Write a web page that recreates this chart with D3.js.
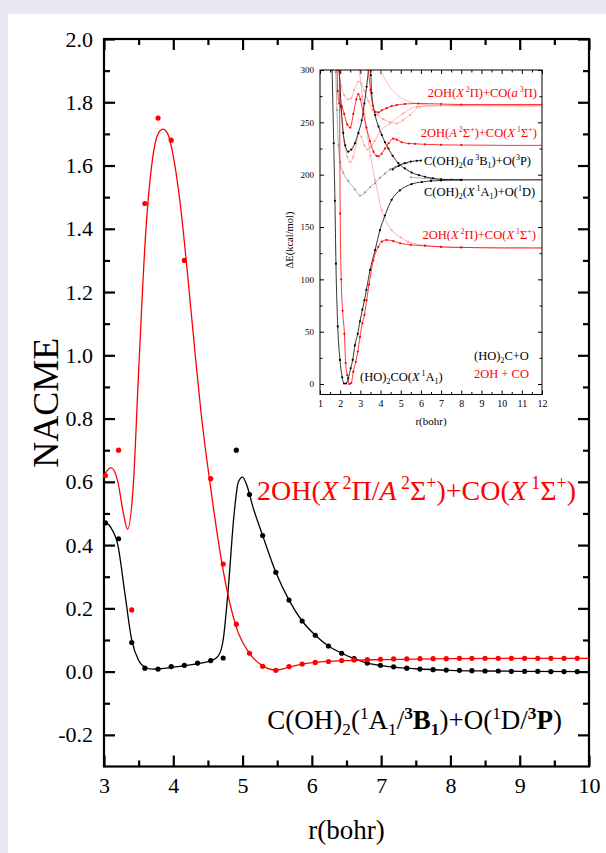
<!DOCTYPE html>
<html>
<head>
<meta charset="utf-8">
<script src="https://cdn.jsdelivr.net/npm/d3@7"></script>
<style>
  html, body { margin: 0; padding: 0; background: #e8e8f3; }
  svg { display: block; }
</style>
</head>
<body>
<div id="chart"></div>
<script>
// main panel: NACME vs r
const mainR = [3.02, 3.21, 3.40, 3.59, 3.78, 3.97, 4.16, 4.35, 4.54, 4.72, 4.91, 5.10, 5.29, 5.48, 5.67, 5.86, 6.05, 6.24, 6.43, 6.61, 6.80, 6.99, 7.18, 7.37, 7.56, 7.75, 7.94, 8.13, 8.31, 8.50, 8.69, 8.88, 9.07, 9.26, 9.45, 9.64, 9.83];
const blackNacme = [0.47, 0.42, 0.092, 0.011, 0.008, 0.016, 0.020, 0.027, 0.035, 0.043, 0.70, 0.56, 0.43, 0.314, 0.226, 0.16, 0.115, 0.081, 0.058, 0.041, 0.027, 0.020, 0.015, 0.011, 0.008, 0.006, 0.005, 0.004, 0.003, 0.002, 0.002, 0.001, 0.001, 0.001, 0.0, 0.0, 0.0];
const redNacme = [0.62, 0.70, 0.195, 1.48, 1.75, 1.68, 1.30, null, 0.61, 0.34, 0.15, 0.058, 0.017, 0.004, 0.016, 0.024, 0.029, 0.032, 0.035, 0.037, 0.038, 0.039, 0.040, 0.040, 0.041, 0.041, 0.041, 0.042, 0.042, 0.042, 0.042, 0.042, 0.042, 0.042, 0.042, 0.042, 0.042];

// fitted curves
const blackFitR = [3.0, 3.1, 3.2, 3.3, 3.4, 3.5, 3.6, 3.7, 3.8, 4.0, 4.2, 4.4, 4.55, 4.65, 4.72, 4.8, 4.87, 4.94, 5.0, 5.06, 5.15, 5.29, 5.48, 5.67, 5.86, 6.05, 6.24, 6.43, 6.61, 6.8, 7.0, 7.5, 8.0, 8.5, 9.0, 10.0];
const blackFit = [0.475, 0.455, 0.40, 0.25, 0.10, 0.035, 0.013, 0.008, 0.009, 0.014, 0.020, 0.027, 0.035, 0.05, 0.10, 0.28, 0.48, 0.60, 0.615, 0.59, 0.52, 0.43, 0.314, 0.226, 0.16, 0.115, 0.081, 0.058, 0.041, 0.027, 0.019, 0.009, 0.004, 0.002, 0.001, 0.0];
const redFitR = [3.0, 3.1, 3.2, 3.28, 3.34, 3.42, 3.5, 3.6, 3.7, 3.78, 3.85, 3.92, 4.0, 4.1, 4.2, 4.3, 4.4, 4.54, 4.72, 4.91, 5.1, 5.29, 5.48, 5.67, 5.86, 6.05, 6.5, 7.0, 8.0, 9.0, 10.0];
const redFit = [0.62, 0.645, 0.60, 0.50, 0.45, 0.58, 0.95, 1.38, 1.62, 1.70, 1.715, 1.70, 1.63, 1.48, 1.27, 1.04, 0.82, 0.58, 0.32, 0.14, 0.058, 0.018, 0.005, 0.014, 0.024, 0.029, 0.035, 0.038, 0.041, 0.042, 0.042];

const xMajor = [3, 4, 5, 6, 7, 8, 9, 10];
const xMinor = [3.5, 4.5, 5.5, 6.5, 7.5, 8.5, 9.5];
const yMajor = [-0.2, 0.0, 0.2, 0.4, 0.6, 0.8, 1.0, 1.2, 1.4, 1.6, 1.8, 2.0];
const yMinor = [-0.1, 0.1, 0.3, 0.5, 0.7, 0.9, 1.1, 1.3, 1.5, 1.7, 1.9];

// inset: potential energy curves, dE (kcal/mol) vs r (bohr)
const gsBlackR = [1.60, 1.68, 1.74, 1.79, 1.88, 1.99, 2.10, 2.19, 2.29, 2.40, 2.52, 2.62, 2.73, 2.87, 2.98, 3.10, 3.20, 3.30, 3.48, 3.73, 3.97, 4.22, 4.55, 4.96, 5.54, 6.04, 6.5, 7.0, 8.0, 9.0, 10.0, 11.0, 12.0];
const gsBlackE = [300, 230, 175, 115, 55, 23, 6.4, 0.5, 0.5, 5.4, 15, 23, 37, 48, 60, 71, 80, 90, 109, 128, 147, 161, 176, 185, 191, 193, 194, 194.5, 195, 195, 195, 195, 195];
const gsRedR = [1.97, 2.0, 2.05, 2.12, 2.21, 2.27, 2.35, 2.45, 2.55, 2.65, 2.77, 2.87, 2.98, 3.10, 3.20, 3.31, 3.43, 3.64, 3.89, 4.06, 4.30, 4.63, 4.97, 5.5, 6.2, 7, 8, 9, 10, 11, 12];
const gsRedE = [300, 163, 100, 70, 48, 20, 8.6, 0, 1, 11.8, 21, 31, 45, 58, 66, 80, 95, 118, 131, 136, 137.6, 136.6, 134.5, 133, 132, 131, 130.5, 130.2, 130, 130, 130];
const wellBlackR = [1.95, 2.05, 2.15, 2.25, 2.40, 2.55, 2.73, 2.90, 3.07, 3.20, 3.31, 3.40, 3.46, 3.52, 3.56, 3.73, 3.9, 4.06, 4.22, 4.39, 4.6, 4.88, 5.2, 5.54, 5.9, 6.2, 6.6, 7.0, 8.0];
const wellBlackE = [300, 265, 240, 228, 222, 224, 230, 240, 252, 268, 284, 300, 315, 295, 278, 257, 246, 238, 231, 225, 218, 211, 206, 202, 199.5, 198, 196.5, 195.5, 195];
const grayR = [1.72, 1.78, 1.84, 1.91, 2.0, 2.15, 2.4, 2.73, 2.98, 3.23, 3.48, 3.73, 3.97, 4.22, 4.47, 4.72, 4.96, 5.3];
const grayE = [320, 298, 262, 228, 212, 202, 194, 186, 180, 183, 188, 192, 197, 201, 205, 207.5, 209.5, 211];
const grayTailR = [5.5, 6.5, 7.5, 8.5, 10, 12];
const grayTailE = [197.5, 196, 195.5, 195.3, 195.2, 195.2];
const tripletR = [4.6, 4.9, 5.2, 5.5, 5.8, 6.0];
const tripletE = [205, 208.5, 211, 212.5, 213.3, 213.5];
const aSigmaR = [1.85, 1.88, 1.95, 2.07, 2.2, 2.35, 2.5, 2.65, 2.8, 2.9, 3.0, 3.15, 3.3, 3.48, 3.65, 3.8, 3.9, 4.05, 4.22, 4.4, 4.63, 4.8, 5.05, 5.4, 5.71, 6.2, 7, 8, 9, 10, 11, 12];
const aSigmaE = [300, 280, 268, 266, 258, 248, 245, 258, 272, 277, 272, 258, 245, 232, 222, 218, 217.5, 220, 225, 230, 234.5, 233.5, 231, 229.8, 229.5, 229, 228.5, 228.3, 228.2, 228, 228, 228];
const aPiR = [3.3, 3.4, 3.5, 3.62, 3.75, 3.9, 4.06, 4.3, 4.55, 4.8, 5.21, 5.87, 7, 8, 9, 10, 11, 12];
const aPiE = [320, 300, 281, 266, 260, 259.5, 261.5, 263.5, 265.5, 266.5, 267.5, 268, 267.5, 267, 267, 267, 267, 267];
const pinkAR = [4.0, 4.2, 4.5, 4.9, 5.4, 5.95, 7, 12];
const pinkAE = [300, 292, 283, 275, 270, 267.5, 266, 265.5];
const pinkBR = [1.92, 2.05, 2.2, 2.4, 2.55, 2.7, 2.9, 3.05, 3.2, 3.4, 3.6, 3.85, 4.14, 4.5, 4.8, 5.1, 5.46, 5.95, 7, 12];
const pinkBE = [300, 285, 276, 272, 273, 281, 289, 287, 280, 270, 262, 257, 253, 250, 249, 252, 257, 265, 266, 266];
const pinkCR = [1.95, 2.05, 2.2, 2.35, 2.5, 2.65, 2.8, 2.92, 3.05, 3.2, 3.35, 3.5, 3.7, 3.97, 4.47, 5.13, 5.79, 7, 12];
const pinkCE = [300, 262, 232, 217, 212, 217, 230, 239, 236, 228, 224, 226, 232, 241, 249, 258.6, 265, 266, 266];
const pinkDR = [2.95, 3.1, 3.3, 3.5, 3.73, 4.06, 4.55, 5.0, 5.36, 6.2, 7, 8, 12];
const pinkDE = [300, 275, 245, 218, 195, 166, 147, 140, 136, 132.5, 131, 130.5, 130];

const insetXMajor = [1, 2, 3, 4, 5, 6, 7, 8, 9, 10, 11, 12];
const insetXMinor = [1.5, 2.5, 3.5, 4.5, 5.5, 6.5, 7.5, 8.5, 9.5, 10.5, 11.5];
const insetYMajor = [0, 50, 100, 150, 200, 250, 300];
const insetYMinor = [25, 75, 125, 175, 225, 275];

const width = 606;
const height = 853;
const font = "'Liberation Serif', 'Times New Roman', serif";

const svg = d3.select("#chart")
  .append("svg")
  .attr("width", width)
  .attr("height", height)
  .style("font-family", font);

// white panel on the lavender page
svg.append("rect")
  .attr("x", 8).attr("y", 14)
  .attr("width", width - 8).attr("height", height - 14)
  .attr("fill", "#fff");

// rich text helper: parts are [text, kinds] with kinds like "i", "sup", "b sub"
function rich(sel, parts, size) {
  let shift = 0;
  parts.forEach(([t, k]) => {
    const kinds = k.split(" ");
    const ts = sel.append("tspan").text(t);
    let target = 0, fs = size;
    if (kinds.includes("sup")) { target = -0.38 * size; fs = 0.64 * size; }
    if (kinds.includes("sub")) { target = 0.22 * size; fs = 0.64 * size; }
    ts.attr("dy", target - shift).style("font-size", fs + "px");
    shift = target;
    if (kinds.includes("i")) ts.style("font-style", "italic");
    if (kinds.includes("b")) ts.style("font-weight", "bold");
  });
  if (shift !== 0) sel.append("tspan").attr("dy", -shift).text("\u200b");
  return sel;
}

// ----- main chart -----
const x = d3.scaleLinear().domain([3, 10]).range([104, 589]);
const y = d3.scaleLinear().domain([-0.3, 2.0]).range([766.5, 39]);
const major = 11, minor = 6;

function ticks(g) {
  g.select(".domain").remove();
  g.selectAll("line").attr("stroke", "#000").attr("stroke-width", 2.2);
}

svg.append("g")
  .attr("transform", `translate(0,${y.range()[0]})`)
  .call(d3.axisBottom(x).tickValues(xMajor).tickSizeInner(-major).tickSizeOuter(0).tickPadding(11).tickFormat(d3.format("d")))
  .call(ticks)
  .selectAll("text").style("font-size", "22px").style("font-family", font).attr("fill", "#000");
svg.append("g")
  .attr("transform", `translate(0,${y.range()[0]})`)
  .call(d3.axisBottom(x).tickValues(xMinor).tickSizeInner(-minor).tickSizeOuter(0).tickFormat(""))
  .call(ticks);
svg.append("g")
  .attr("transform", `translate(0,${y.range()[1]})`)
  .call(d3.axisTop(x).tickValues(xMajor).tickSizeInner(-major).tickSizeOuter(0).tickFormat(""))
  .call(ticks);
svg.append("g")
  .attr("transform", `translate(0,${y.range()[1]})`)
  .call(d3.axisTop(x).tickValues(xMinor).tickSizeInner(-minor).tickSizeOuter(0).tickFormat(""))
  .call(ticks);

svg.append("g")
  .attr("transform", `translate(${x.range()[0]},0)`)
  .call(d3.axisLeft(y).tickValues(yMajor).tickSizeInner(-major).tickSizeOuter(0).tickPadding(11).tickFormat(d => d.toFixed(1)))
  .call(ticks)
  .selectAll("text").style("font-size", "22px").style("font-family", font).attr("fill", "#000");
svg.append("g")
  .attr("transform", `translate(${x.range()[0]},0)`)
  .call(d3.axisLeft(y).tickValues(yMinor).tickSizeInner(-minor).tickSizeOuter(0).tickFormat(""))
  .call(ticks);
svg.append("g")
  .attr("transform", `translate(${x.range()[1]},0)`)
  .call(d3.axisRight(y).tickValues(yMajor).tickSizeInner(-major).tickSizeOuter(0).tickFormat(""))
  .call(ticks);
svg.append("g")
  .attr("transform", `translate(${x.range()[1]},0)`)
  .call(d3.axisRight(y).tickValues(yMinor).tickSizeInner(-minor).tickSizeOuter(0).tickFormat(""))
  .call(ticks);

svg.append("rect")
  .attr("x", x.range()[0]).attr("y", y.range()[1])
  .attr("width", x.range()[1] - x.range()[0])
  .attr("height", y.range()[0] - y.range()[1])
  .attr("fill", "none").attr("stroke", "#000").attr("stroke-width", 2.2);

const line = d3.line().x(d => x(d[0])).y(d => y(d[1])).curve(d3.curveMonotoneX);

svg.append("path")
  .datum(blackFitR.map((r, i) => [r, blackFit[i]]))
  .attr("d", line).attr("fill", "none").attr("stroke", "#000").attr("stroke-width", 1.3);
svg.append("path")
  .datum(redFitR.map((r, i) => [r, redFit[i]]))
  .attr("d", line).attr("fill", "none").attr("stroke", "#ff0000").attr("stroke-width", 1.3);

svg.append("g").selectAll("circle")
  .data(mainR.map((r, i) => [r, blackNacme[i]]))
  .join("circle")
  .attr("cx", d => x(d[0])).attr("cy", d => y(d[1])).attr("r", 2.6).attr("fill", "#000");
svg.append("g").selectAll("circle")
  .data(mainR.map((r, i) => [r, redNacme[i]]).filter(d => d[1] !== null))
  .join("circle")
  .attr("cx", d => x(d[0])).attr("cy", d => y(d[1])).attr("r", 2.6).attr("fill", "#ff0000");

// axis titles
svg.append("text")
  .attr("transform", `translate(58,${(y.range()[0] + y.range()[1]) / 2}) rotate(-90)`)
  .attr("text-anchor", "middle")
  .style("font-size", "36px")
  .text("NACME");
svg.append("text")
  .attr("x", (x.range()[0] + x.range()[1]) / 2)
  .attr("y", 839)
  .attr("text-anchor", "middle")
  .style("font-size", "27px")
  .text("r(bohr)");

// curve labels
rich(svg.append("text").attr("x", 576).attr("y", 500).attr("text-anchor", "end").attr("fill", "#ff0000").style("font-size", "28px"), [
  ["2OH(", ""], ["X", "i"], [" 2", "sup"], ["\u03A0/", ""], ["A", "i"], [" 2", "sup"], ["\u03A3", ""], ["+", "sup"],
  [")+CO(", ""], ["X", "i"], [" 1", "sup"], ["\u03A3", ""], ["+", "sup"], [")", ""]
], 28);
rich(svg.append("text").attr("x", 562).attr("y", 729).attr("text-anchor", "end").attr("fill", "#000").style("font-size", "27px"), [
  ["C(OH)", ""], ["2", "sub"], ["(", ""], ["1", "sup"], ["A", ""], ["1", "sub"], ["/", ""], ["3", "b sup"], ["B", "b"], ["1", "b sub"],
  [")+O(", ""], ["1", "sup"], ["D/", ""], ["3", "b sup"], ["P", "b"], [")", ""]
], 27);

// ----- inset -----
const ix = d3.scaleLinear().domain([1, 12]).range([320, 542]);
const iy = d3.scaleLinear().domain([-10, 300]).range([394.5, 70]);
const inset = svg.append("g");

inset.append("clipPath").attr("id", "insetClip")
  .append("rect")
  .attr("x", ix.range()[0]).attr("y", iy.range()[1])
  .attr("width", ix.range()[1] - ix.range()[0])
  .attr("height", iy.range()[0] - iy.range()[1]);

function thin(g) {
  g.select(".domain").remove();
  g.selectAll("line").attr("stroke", "#000").attr("stroke-width", 1);
}
inset.append("g")
  .attr("transform", `translate(0,${iy.range()[0]})`)
  .call(d3.axisBottom(ix).tickValues(insetXMajor).tickSizeInner(-4).tickSizeOuter(0).tickPadding(5).tickFormat(d3.format("d")))
  .call(thin)
  .selectAll("text").style("font-size", "10px").style("font-family", font).attr("fill", "#000");
inset.append("g")
  .attr("transform", `translate(0,${iy.range()[0]})`)
  .call(d3.axisBottom(ix).tickValues(insetXMinor).tickSizeInner(-2.5).tickSizeOuter(0).tickFormat(""))
  .call(thin);
inset.append("g")
  .attr("transform", `translate(0,${iy.range()[1]})`)
  .call(d3.axisTop(ix).tickValues(insetXMajor).tickSizeInner(-4).tickSizeOuter(0).tickFormat(""))
  .call(thin);
inset.append("g")
  .attr("transform", `translate(0,${iy.range()[1]})`)
  .call(d3.axisTop(ix).tickValues(insetXMinor).tickSizeInner(-2.5).tickSizeOuter(0).tickFormat(""))
  .call(thin);
inset.append("g")
  .attr("transform", `translate(${ix.range()[0]},0)`)
  .call(d3.axisLeft(iy).tickValues(insetYMajor).tickSizeInner(-4).tickSizeOuter(0).tickPadding(6).tickFormat(d3.format("d")))
  .call(thin)
  .selectAll("text").style("font-size", "9px").style("font-family", font).attr("fill", "#000");
inset.append("g")
  .attr("transform", `translate(${ix.range()[0]},0)`)
  .call(d3.axisLeft(iy).tickValues(insetYMinor).tickSizeInner(-2.5).tickSizeOuter(0).tickFormat(""))
  .call(thin);
inset.append("g")
  .attr("transform", `translate(${ix.range()[1]},0)`)
  .call(d3.axisRight(iy).tickValues(insetYMajor).tickSizeInner(-4).tickSizeOuter(0).tickFormat(""))
  .call(thin);
inset.append("g")
  .attr("transform", `translate(${ix.range()[1]},0)`)
  .call(d3.axisRight(iy).tickValues(insetYMinor).tickSizeInner(-2.5).tickSizeOuter(0).tickFormat(""))
  .call(thin);

const insetCurves = [
  { r: pinkAR, e: pinkAE, color: "#ffaaaa", dots: false },
  { r: pinkBR, e: pinkBE, color: "#ff9f9f", dots: true },
  { r: pinkCR, e: pinkCE, color: "#ff9f9f", dots: true },
  { r: pinkDR, e: pinkDE, color: "#ff9f9f", dots: true },
  { r: grayR, e: grayE, color: "#9a9a9a", dots: true },
  { r: grayTailR, e: grayTailE, color: "#9a9a9a", dots: true },
  { r: gsBlackR, e: gsBlackE, color: "#000", dots: true },
  { r: wellBlackR, e: wellBlackE, color: "#000", dots: true },
  { r: tripletR, e: tripletE, color: "#000", dots: true },
  { r: gsRedR, e: gsRedE, color: "#ff0000", dots: true },
  { r: aSigmaR, e: aSigmaE, color: "#ff0000", dots: true },
  { r: aPiR, e: aPiE, color: "#ff0000", dots: true }
];

const iline = d3.line().x(d => ix(d[0])).y(d => iy(d[1])).curve(d3.curveMonotoneX);
const curveG = inset.append("g").attr("clip-path", "url(#insetClip)");
insetCurves.forEach(c => {
  const pts = c.r.map((r, i) => [r, c.e[i]]);
  curveG.append("path").datum(pts)
    .attr("d", iline).attr("fill", "none").attr("stroke", c.color).attr("stroke-width", 0.8);
  if (c.dots) {
    curveG.append("g").selectAll("circle")
      .data(pts.filter(d => d[0] <= 8.2))
      .join("circle")
      .attr("cx", d => ix(d[0])).attr("cy", d => iy(d[1])).attr("r", 1.1).attr("fill", c.color);
  }
});

inset.append("rect")
  .attr("x", ix.range()[0]).attr("y", iy.range()[1])
  .attr("width", ix.range()[1] - ix.range()[0])
  .attr("height", iy.range()[0] - iy.range()[1])
  .attr("fill", "none").attr("stroke", "#000").attr("stroke-width", 1);

inset.append("text")
  .attr("transform", "translate(293,240) rotate(-90)")
  .attr("text-anchor", "middle").style("font-size", "10.5px")
  .text("\u0394E(kcal/mol)");
inset.append("text")
  .attr("x", (ix.range()[0] + ix.range()[1]) / 2).attr("y", 425)
  .attr("text-anchor", "middle").style("font-size", "11px")
  .text("r(bohr)");

const lf = 12.5;
rich(inset.append("text").attr("x", 537).attr("y", 97).attr("text-anchor", "end").attr("fill", "#ff0000").style("font-size", lf + "px"), [
  ["2OH(", ""], ["X", "i"], [" 2", "sup"], ["\u03A0)+CO(", ""], ["a", "i"], [" 3", "sup"], ["\u03A0)", ""]
], lf);
rich(inset.append("text").attr("x", 537).attr("y", 137).attr("text-anchor", "end").attr("fill", "#ff0000").style("font-size", lf + "px"), [
  ["2OH(", ""], ["A", "i"], [" 2", "sup"], ["\u03A3", ""], ["+", "sup"], [")+CO(", ""], ["X", "i"], [" 1", "sup"], ["\u03A3", ""], ["+", "sup"], [")", ""]
], lf);
rich(inset.append("text").attr("x", 424).attr("y", 165).attr("fill", "#000").style("font-size", lf + "px"), [
  ["C(OH)", ""], ["2", "sub"], ["(", ""], ["a", "i"], [" 3", "sup"], ["B", ""], ["1", "sub"], [")+O(", ""], ["3", "sup"], ["P)", ""]
], lf);
rich(inset.append("text").attr("x", 424).attr("y", 196).attr("fill", "#000").style("font-size", lf + "px"), [
  ["C(OH)", ""], ["2", "sub"], ["(", ""], ["X", "i"], [" 1", "sup"], ["A", ""], ["1", "sub"], [")+O(", ""], ["1", "sup"], ["D)", ""]
], lf);
rich(inset.append("text").attr("x", 536).attr("y", 239).attr("text-anchor", "end").attr("fill", "#ff0000").style("font-size", lf + "px"), [
  ["2OH(", ""], ["X", "i"], [" 2", "sup"], ["\u03A0)+CO(", ""], ["X", "i"], [" 1", "sup"], ["\u03A3", ""], ["+", "sup"], [")", ""]
], lf);
rich(inset.append("text").attr("x", 474).attr("y", 360).attr("fill", "#000").style("font-size", lf + "px"), [
  ["(HO)", ""], ["2", "sub"], ["C+O", ""]
], lf);
inset.append("text").attr("x", 474).attr("y", 378).attr("fill", "#ff0000").style("font-size", lf + "px").text("2OH + CO");
rich(inset.append("text").attr("x", 360).attr("y", 381).attr("fill", "#000").style("font-size", lf + "px"), [
  ["(HO)", ""], ["2", "sub"], ["CO(", ""], ["X", "i"], [" 1", "sup"], ["A", ""], ["1", "sub"], [")", ""]
], lf);
</script>
</body>
</html>
